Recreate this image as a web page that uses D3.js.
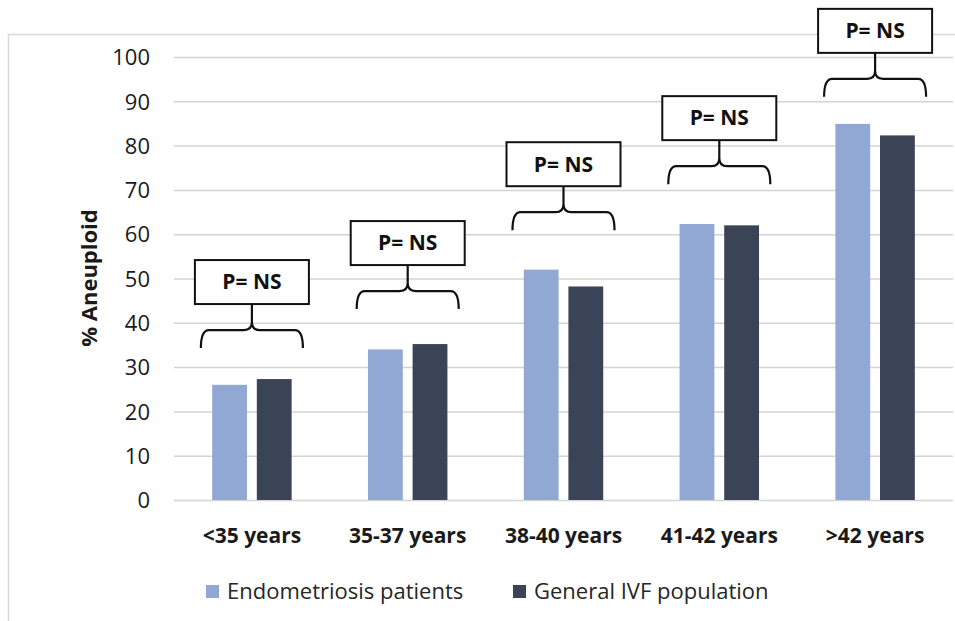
<!DOCTYPE html>
<html>
<head>
<meta charset="utf-8">
<script src="https://cdn.jsdelivr.net/npm/d3@7"></script>
<style>
  html, body { margin: 0; padding: 0; background: #fff; }
  svg { display: block; font-family: "Open Sans", "Noto Sans", sans-serif; }
</style>
</head>
<body>
<svg id="chart" width="955" height="621"></svg>
<script>
// ---- data ----
const categories = ["<35 years", "35-37 years", "38-40 years", "41-42 years", ">42 years"];
const seriesNames = ["Endometriosis patients", "General IVF population"];
const endometriosis = [26.0, 34.0, 52.0, 62.3, 84.9];
const generalIVF = [27.3, 35.2, 48.2, 62.0, 82.3];
const yTicks = [0, 10, 20, 30, 40, 50, 60, 70, 80, 90, 100];
const pLabels = ["P= NS", "P= NS", "P= NS", "P= NS", "P= NS"];
const braceTips = [34.3, 43.1, 60.9, 71.3, 91.0];

const colors = ["#92a8d4", "#3b4357"];

const svg = d3.select("#chart");

// outer frame
svg.append("rect")
  .attr("x", 8.5).attr("y", 34.5)
  .attr("width", 960).attr("height", 600)
  .attr("fill", "none").attr("stroke", "#d9d9d9").attr("stroke-width", 1.5);

const plotLeft = 174, plotRight = 953, plotTop = 57, plotBottom = 500;

const y = d3.scaleLinear().domain([0, 100]).range([plotBottom, plotTop]);
const x0 = d3.scaleBand().domain(categories).range([plotLeft, plotRight])
  .paddingInner(0.49).paddingOuter(0.245);
const x1 = d3.scaleBand().domain(seriesNames).range([0, x0.bandwidth()])
  .paddingInner(0.22).paddingOuter(0);

// gridlines
const yAxisGrid = d3.axisLeft(y).tickValues(yTicks).tickSize(-(plotRight - plotLeft)).tickFormat("");
const grid = svg.append("g").attr("transform", `translate(${plotLeft},0)`).call(yAxisGrid);
grid.select(".domain").remove();
grid.selectAll(".tick line").attr("stroke", "#d4d4d4").attr("stroke-width", 1.5);

// y tick labels
const yAxis = d3.axisLeft(y).tickValues(yTicks).tickSize(0).tickPadding(0);
const ya = svg.append("g").attr("transform", `translate(150,0)`).call(yAxis);
ya.select(".domain").remove();
ya.selectAll(".tick text")
  .attr("font-family", "'Open Sans', sans-serif")
  .attr("font-size", 22).attr("fill", "#1a1a1a").attr("dy", "0.35em");

// y axis title
svg.append("text")
  .attr("transform", `translate(97,278) rotate(-90)`)
  .attr("text-anchor", "middle")
  .attr("font-size", 22).attr("font-weight", "bold").attr("fill", "#1a1a1a")
  .text("% Aneuploid");

// bars
const data = categories.map((c, i) => ({ cat: c, vals: [endometriosis[i], generalIVF[i]] }));
const groups = svg.append("g").selectAll("g").data(data).join("g")
  .attr("transform", d => `translate(${x0(d.cat)},0)`);
groups.selectAll("rect")
  .data(d => d.vals.map((v, j) => ({ name: seriesNames[j], v, j })))
  .join("rect")
  .attr("x", d => x1(d.name))
  .attr("y", d => y(d.v))
  .attr("width", x1.bandwidth())
  .attr("height", d => y(0) - y(d.v))
  .attr("fill", d => colors[d.j]);

// x axis
const xAxis = d3.axisBottom(x0).tickSize(0).tickPadding(0);
const xa = svg.append("g").attr("transform", `translate(0,${plotBottom})`).call(xAxis);
xa.select(".domain").remove();
xa.selectAll(".tick text")
  .attr("font-family", "'Open Sans', sans-serif")
  .attr("font-size", 21).attr("font-weight", "bold").attr("fill", "#1a1a1a")
  .attr("dy", 0).attr("y", 43);

// annotations: braces + boxes
const ann = svg.append("g");
categories.forEach((c, i) => {
  const cx = x0(c) + x0.bandwidth() / 2;
  const yt = y(braceTips[i]);
  const yh = yt - 18;
  const hw = 51, r = 8;
  const p = d3.path();
  p.moveTo(cx - hw, yt);
  p.quadraticCurveTo(cx - hw, yh, cx - hw + r, yh);
  p.lineTo(cx - r, yh);
  p.quadraticCurveTo(cx, yh, cx, yh - r);
  p.quadraticCurveTo(cx, yh, cx + r, yh);
  p.lineTo(cx + hw - r, yh);
  p.quadraticCurveTo(cx + hw, yh, cx + hw, yt);
  p.moveTo(cx, yh - r);
  p.lineTo(cx, yt - 44);
  ann.append("path").attr("d", p.toString())
    .attr("fill", "none").attr("stroke", "#111").attr("stroke-width", 2.2);
  const bw = 114, bh = 44;
  ann.append("rect")
    .attr("x", cx - bw / 2).attr("y", yt - 44 - bh)
    .attr("width", bw).attr("height", bh)
    .attr("fill", "#fff").attr("stroke", "#111").attr("stroke-width", 2);
  ann.append("text")
    .attr("x", cx).attr("y", yt - 44 - bh / 2)
    .attr("dy", "0.35em")
    .attr("text-anchor", "middle")
    .attr("font-size", 21).attr("font-weight", "bold").attr("fill", "#111")
    .text(pLabels[i]);
});

// legend
const legendItems = [
  { name: seriesNames[0], color: colors[0], x: 206 },
  { name: seriesNames[1], color: colors[1], x: 513 }
];
const lg = svg.append("g");
legendItems.forEach(it => {
  lg.append("rect").attr("x", it.x).attr("y", 585).attr("width", 13).attr("height", 13).attr("fill", it.color);
  lg.append("text").attr("x", it.x + 21).attr("y", 591).attr("dy", "0.35em")
    .attr("font-size", 22).attr("fill", "#262626").text(it.name);
});
</script>
</body>
</html>
